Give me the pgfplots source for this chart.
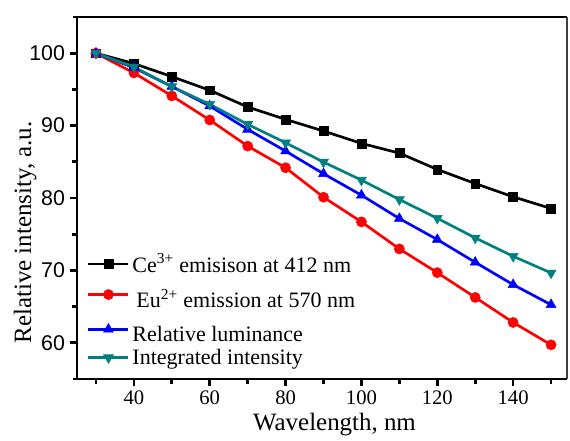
\documentclass[border=0pt]{standalone}
\usepackage{fontspec}
\setmainfont{Liberation Serif}
\newfontfamily\arialfont{Liberation Sans}
\usepackage{pgfplots}
\pgfplotsset{compat=1.18}
\definecolor{tealline}{RGB}{0,128,128}

\begin{document}
\begin{tikzpicture}
\begin{axis}[
    scale only axis, width=367.5pt, height=271.5pt,
    xmin=25, xmax=154.2, ymin=55, ymax=105,
    axis x line*=bottom, axis y line*=left,
    axis line style={line width=2.2pt},
    x axis line style={shorten <=-3pt},
    xtick={40,60,...,140}, minor xtick={30,50,...,150},
    ytick={60,70,...,100}, minor ytick={65,75,...,95},
    tick align=outside,
    major tick length=5.5pt, minor tick length=4pt,
    tick style={black, line width=2pt},
    /pgf/number format/assume math mode=true,
    xticklabel style={font=\fontsize{15.5}{16}\selectfont},
    yticklabel style={font=\arialfont\fontsize{16}{16}\selectfont},
    label style={font=\fontsize{18.7}{20}\selectfont},
    xlabel={Wavelength, nm},
    ylabel={Relative intensity, a.u.},
    xlabel style={at={(axis description cs:0.5255,-0.127)}, anchor=center},
    ylabel style={at={(axis description cs:-0.106,0.405)}, anchor=center},
    legend style={at={(axis description cs:0.012,0.362)}, anchor=north west,
        draw=none, fill=none, font=\fontsize{16.5}{18}\selectfont},
    legend cell align=left,
    legend image code/.code={\draw[mark repeat=2,mark phase=2] plot coordinates {(0pt,0pt)(15pt,0pt)(30pt,0pt)};},
]
\addplot[black, line width=2pt, mark=square*, mark size=3.3pt, mark options={line width=0.4pt}]
coordinates {(30,100)(40,98.57)(50,96.77)(60,94.88)(70,92.57)(80,90.86)(90,89.25)
(100,87.54)(110,86.2)(120,83.94)(130,82.0)(140,80.16)(150,78.55)};
\addplot[red, line width=2pt, mark=*, mark size=3.8pt, mark options={line width=0.4pt}]
coordinates {(30,100)(40,97.28)(50,94.1)(60,90.77)(70,87.17)(80,84.18)(90,80.11)
(100,76.7)(110,72.97)(120,69.69)(130,66.27)(140,62.81)(150,59.72)};
\addplot[blue, line width=2pt, mark=triangle*, mark size=4.3pt, mark options={line width=0.4pt}]
coordinates {(30,100)(40,98.0)(50,95.39)(60,92.71)(70,89.48)(80,86.48)(90,83.35)
(100,80.39)(110,77.16)(120,74.26)(130,71.12)(140,68.03)(150,65.26)};
\addplot[tealline, line width=2pt, mark=triangle*, mark size=4.3pt, mark options={rotate=180, line width=0.4pt}]
coordinates {(30,100)(40,98.1)(50,95.39)(60,92.94)(70,90.17)(80,87.63)(90,84.96)
(100,82.47)(110,79.79)(120,77.2)(130,74.49)(140,71.95)(150,69.65)};
\legend{Ce\textsuperscript{3+} emisison at 412 nm,
\rule[-6.75pt]{0pt}{27.9pt}\hspace{3pt}Eu\textsuperscript{2+} emission at 570 nm,
\rule{0pt}{20pt}Relative luminance,
Integrated intensity}
\end{axis}
\begin{axis}[
    scale only axis, width=367.5pt, height=271.5pt,
    xmin=25, xmax=154.2, ymin=55, ymax=105,
    axis x line*=top, axis y line*=right,
    x axis line style={line width=2.2pt, shorten <=-3pt},
    y axis line style={line width=0.8pt, black!75},
    xtick=\empty, ytick=\empty,
]
\end{axis}
\pgfresetboundingbox
\path[use as bounding box] (-57.75pt,-45.75pt) rectangle (369.75pt,284.25pt);
\end{tikzpicture}
\end{document}
